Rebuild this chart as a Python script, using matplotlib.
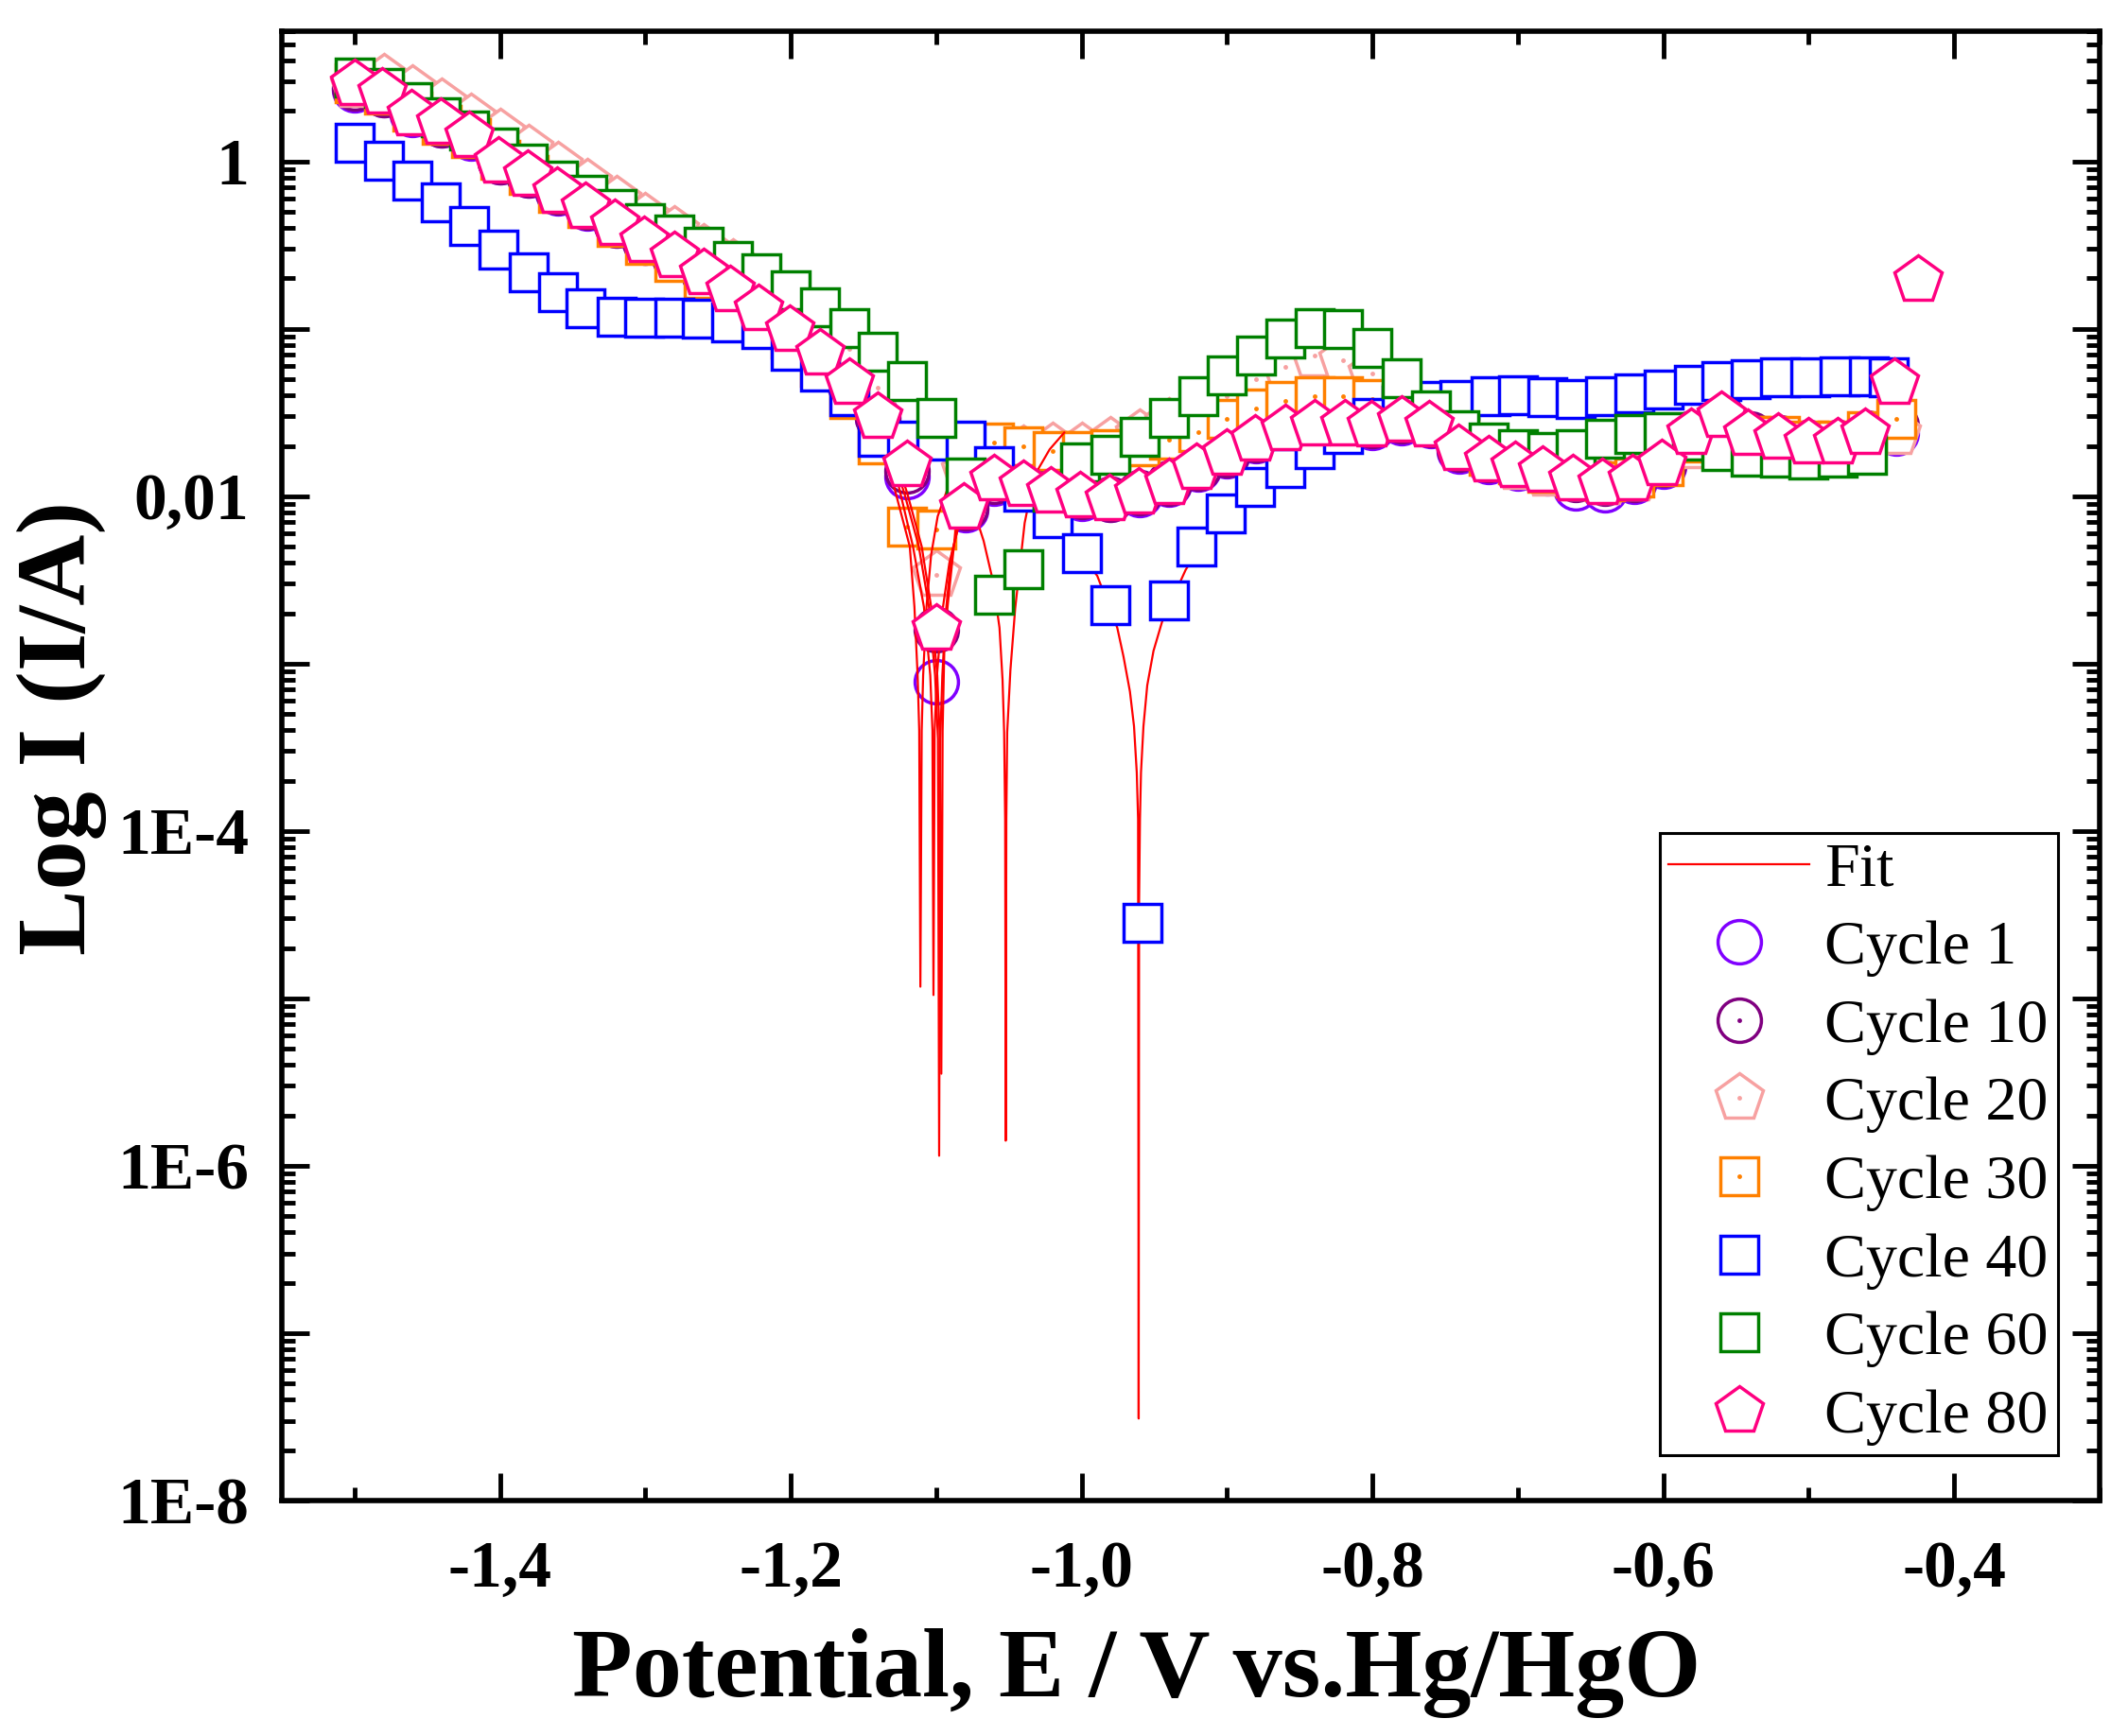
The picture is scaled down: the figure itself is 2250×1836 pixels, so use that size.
import matplotlib
matplotlib.use('Agg')
import matplotlib.pyplot as plt
import numpy as np
from matplotlib.ticker import FixedLocator, FuncFormatter, MultipleLocator, LogLocator, NullFormatter
from matplotlib.legend_handler import HandlerTuple

plt.rcParams['font.family'] = ['Liberation Serif', 'DejaVu Serif']
plt.rcParams['font.weight'] = 'bold'

# ---------------- data (potential in V, log10 of current in A) ----------------
E_grid = [-1.50, -1.48, -1.46, -1.44, -1.42, -1.40, -1.38, -1.36, -1.34, -1.32,
          -1.30, -1.28, -1.26, -1.24, -1.22, -1.20, -1.18, -1.16, -1.14, -1.12,
          -1.10, -1.08, -1.06, -1.04, -1.02, -1.00, -0.98, -0.96, -0.94, -0.92,
          -0.90, -0.88, -0.86, -0.84, -0.82, -0.80, -0.78, -0.76, -0.74, -0.72,
          -0.70, -0.68, -0.66, -0.64, -0.62, -0.60, -0.58, -0.56, -0.54, -0.52,
          -0.50, -0.48, -0.46, -0.44]

logI_c1 = [0.43, 0.40, 0.28, 0.22, 0.14, 0.00, -0.08, -0.19, -0.28, -0.38,
           -0.48, -0.57, -0.67, -0.77, -0.89, -1.01, -1.15, -1.33, -1.53, -1.88,
           -3.11, -2.08, -1.92, -1.95, -1.98, -2.01, -2.02, -1.99, -1.93, -1.84,
           -1.76, -1.67, -1.61, -1.58, -1.58, -1.59, -1.56, -1.58, -1.73, -1.79,
           -1.83, -1.86, -1.95, -1.96, -1.91, -1.82, -1.63, -1.53, -1.64, -1.66,
           -1.69, -1.69, -1.63, -1.62]

logI_c10 = [0.44, 0.40, 0.29, 0.22, 0.15, 0.00, -0.08, -0.18, -0.27, -0.38,
            -0.48, -0.57, -0.67, -0.77, -0.88, -1.01, -1.15, -1.32, -1.53, -1.85,
            -2.80, -2.07, -1.91, -1.94, -1.97, -2.00, -2.02, -1.98, -1.92, -1.83,
            -1.75, -1.66, -1.60, -1.57, -1.57, -1.58, -1.55, -1.57, -1.72, -1.78,
            -1.82, -1.85, -1.90, -1.92, -1.90, -1.81, -1.62, -1.52, -1.63, -1.65,
            -1.68, -1.68, -1.62, -1.58]

logI_c20 = [0.45, 0.497, 0.428, 0.348, 0.26, 0.17, 0.07, -0.03, -0.13, -0.233,
            -0.333, -0.413, -0.52, -0.614, -0.72, -0.84, -0.97, -1.12, -1.35, -1.75,
            -2.47, -1.85, -1.75, -1.724, -1.71, -1.71, -1.675, -1.63, -1.56, -1.48,
            -1.40, -1.30, -1.226, -1.16, -1.19, -1.265, -1.40, -1.55, -1.70, -1.78,
            -1.83, -1.87, -1.90, -1.92, -1.90, -1.80, -1.71, -1.66, -1.68, -1.70,
            -1.71, -1.71, -1.66, -1.62]

logI_c30 = [0.47, 0.40, 0.30, 0.22, 0.14, 0.01, -0.08, -0.19, -0.28, -0.39,
            -0.50, -0.60, -0.70, -0.80, -0.92, -1.06, -1.23, -1.42, -1.69, -2.18,
            -2.20, -1.74, -1.68, -1.70, -1.73, -1.73, -1.72, -1.70, -1.66, -1.615,
            -1.54, -1.474, -1.43, -1.40, -1.40, -1.42, -1.45, -1.52, -1.65, -1.76,
            -1.81, -1.86, -1.89, -1.91, -1.89, -1.82, -1.68, -1.62, -1.64, -1.64,
            -1.67, -1.67, -1.61, -1.54]

E_c40 = [-1.500, -1.480, -1.460, -1.441, -1.421, -1.401, -1.380, -1.360, -1.341, -1.320,
         -1.301, -1.280, -1.261, -1.241, -1.220, -1.200, -1.180, -1.160, -1.140, -1.120,
         -1.100, -1.080, -1.060, -1.040, -1.020, -1.000, -0.980, -0.958, -0.940, -0.921,
         -0.901, -0.881, -0.860, -0.840, -0.820, -0.800, -0.780, -0.760, -0.740, -0.719,
         -0.700, -0.680, -0.660, -0.640, -0.620, -0.600, -0.579, -0.560, -0.540, -0.520,
         -0.499, -0.479, -0.459, -0.445]
logI_c40 = [0.114, 0.006, -0.113, -0.245, -0.386, -0.525, -0.663, -0.78, -0.878, -0.93,
            -0.935, -0.935, -0.94, -0.96, -1.00, -1.13, -1.254, -1.405, -1.644, -1.67,
            -1.67, -1.67, -1.82, -1.97, -2.13, -2.34, -2.65, -4.55, -2.62, -2.30,
            -2.10, -1.944, -1.83, -1.72, -1.63, -1.53, -1.46, -1.43, -1.426, -1.404,
            -1.398, -1.408, -1.417, -1.404, -1.385, -1.36, -1.333, -1.31, -1.30, -1.29,
            -1.29, -1.286, -1.286, -1.29]

E_c60 = [-1.500, -1.480, -1.460, -1.441, -1.421, -1.401, -1.381, -1.360, -1.340, -1.320,
         -1.300, -1.280, -1.260, -1.240, -1.220, -1.200, -1.180, -1.160, -1.140, -1.120,
         -1.100, -1.080, -1.060, -1.040, -1.020, -1.001, -0.980, -0.960, -0.940, -0.920,
         -0.900, -0.880, -0.860, -0.840, -0.820, -0.800, -0.780, -0.760, -0.740, -0.720,
         -0.700, -0.680, -0.660, -0.640, -0.620, -0.600, -0.580, -0.560, -0.540, -0.520,
         -0.500, -0.480, -0.460]
logI_c60 = [0.50, 0.437, 0.356, 0.266, 0.185, 0.085, -0.014, -0.114, -0.20, -0.285,
            -0.368, -0.436, -0.512, -0.592, -0.67, -0.77, -0.87, -0.996, -1.135, -1.31,
            -1.534, -1.89, -2.59, -2.436, -1.97, -1.80, -1.754, -1.646, -1.53, -1.40,
            -1.276, -1.16, -1.06, -0.995, -1.004, -1.117, -1.295, -1.487, -1.605, -1.68,
            -1.72, -1.736, -1.717, -1.657, -1.63, -1.617, -1.67, -1.73, -1.764, -1.77,
            -1.78, -1.77, -1.75]

E_c80 = [-1.500, -1.481, -1.461, -1.441, -1.421, -1.401, -1.381, -1.361, -1.341, -1.321,
         -1.301, -1.280, -1.260, -1.242, -1.222, -1.201, -1.180, -1.160, -1.140, -1.120,
         -1.100, -1.081, -1.060, -1.040, -1.021, -1.001, -0.981, -0.961, -0.940, -0.921,
         -0.900, -0.881, -0.860, -0.840, -0.819, -0.801, -0.780, -0.761, -0.741, -0.720,
         -0.702, -0.683, -0.662, -0.642, -0.621, -0.601, -0.581, -0.560, -0.542, -0.521,
         -0.500, -0.480, -0.461, -0.441, -0.425]
logI_c80 = [0.461, 0.409, 0.283, 0.233, 0.152, 0.001, -0.079, -0.183, -0.271, -0.377,
            -0.478, -0.566, -0.667, -0.768, -0.881, -1.007, -1.146, -1.322, -1.525, -1.814,
            -2.79, -2.07, -1.90, -1.936, -1.97, -2.00, -2.016, -1.98, -1.92, -1.83,
            -1.745, -1.66, -1.60, -1.57, -1.57, -1.58, -1.55, -1.575, -1.72, -1.785,
            -1.82, -1.85, -1.90, -1.92, -1.90, -1.81, -1.62, -1.52, -1.63, -1.65,
            -1.68, -1.68, -1.62, -1.325, -0.71]

# Tafel fit curves
E_fitA = [-1.132, -1.1291, -1.1182, -1.115, -1.1128, -1.1117, -1.1109, -1.1100, -1.1090, -1.1067, -1.1035, -1.099, -1.092]
logI_fitA = [-1.80, -1.94, -2.30, -2.66, -3.07, -3.40, -4.93, -3.40, -3.07, -2.66, -2.35, -2.12, -1.95]
E_fitB = [-1.130, -1.1258, -1.116, -1.1085, -1.1041, -1.1026, -1.1019, -1.1011, -1.0995, -1.096, -1.091, -1.084, -1.076]
logI_fitB = [-1.80, -1.94, -2.30, -2.66, -3.07, -3.40, -4.98, -3.40, -3.07, -2.70, -2.40, -2.15, -1.98]
E_fitC = [-1.127, -1.122, -1.112, -1.105, -1.1008, -1.0988, -1.0980, -1.0972, -1.0958, -1.0935, -1.0895, -1.083, -1.074]
logI_fitC = [-1.85, -1.98, -2.30, -2.66, -3.07, -3.45, -5.94, -3.45, -3.07, -2.70, -2.35, -2.12, -1.95]
E_fitD = [-1.125, -1.120, -1.110, -1.1035, -1.0993, -1.0975, -1.0965, -1.0956, -1.0944, -1.0922, -1.0868, -1.080, -1.072]
logI_fitD = [-1.85, -1.98, -2.30, -2.66, -3.07, -3.45, -5.45, -3.40, -2.90, -2.66, -2.21, -2.02, -1.90]
E_fitG = [-1.093, -1.085, -1.0674, -1.0609, -1.0565, -1.0544, -1.0533, -1.0526, -1.0522, -1.0518, -1.0512, -1.0490, -1.0457, -1.0392, -1.0327, -1.022, -1.012]
logI_fitG = [-1.66, -1.79, -2.267, -2.51, -2.786, -3.097, -3.41, -3.93, -5.85, -3.93, -3.41, -3.04, -2.67, -2.16, -1.88, -1.72, -1.62]
E_fitBl = [-1.005, -0.9893, -0.9755, -0.9712, -0.9668, -0.964, -0.9621, -0.9612, -0.9608, -0.9605, -0.9599, -0.9592, -0.9575, -0.9549, -0.9506, -0.9447, -0.9285, -0.915]
logI_fitBl = [-2.30, -2.475, -2.786, -2.959, -3.167, -3.374, -3.651, -3.928, -7.51, -4.41, -3.928, -3.651, -3.374, -3.13, -2.924, -2.75, -2.44, -2.25]

labels = ['Fit', 'Cycle 1', 'Cycle 10', 'Cycle 20', 'Cycle 30', 'Cycle 40', 'Cycle 60', 'Cycle 80']
colors = {'fit': '#FF0000', 'c1': '#8000FF', 'c10': '#800080', 'c20': '#F7A1A1',
          'c30': '#FF8000', 'c40': '#0000FF', 'c60': '#008000', 'c80': '#FF0080'}
y_ticklabels = {0: '1', -2: '0,01', -4: '1E-4', -6: '1E-6', -8: '1E-8'}

# ---------------- figure ----------------
fig = plt.figure(figsize=(22.5, 18.36), dpi=100)
ax = fig.add_axes([0.13244, 0.13562, 0.85422, 0.84641])
ax.set_yscale('log')

MEW = 2.5
def I(v):
    return 10.0 ** np.asarray(v)

def series(E, logv, color, marker, ms, z, dot=False):
    h = ax.plot(E, I(logv), ls='none', marker=marker, ms=ms, mfc='white', mec=color,
                mew=MEW, zorder=z)[0]
    if dot:
        d = ax.plot(E, I(logv), ls='none', marker='o', ms=3.5, mfc=color, mec=color,
                    mew=0, zorder=z + 0.01)[0]
        return (h, d)
    return h

h1 = series(E_grid, logI_c1, colors['c1'], 'o', 33, 2.0)
h10 = series(E_grid, logI_c10, colors['c10'], 'o', 33, 2.1, dot=True)
h20 = series(E_grid, logI_c20, colors['c20'], 'p', 37.5, 2.2, dot=True)
h30 = series(E_grid, logI_c30, colors['c30'], 's', 28.5, 2.3, dot=True)

fit_handle = None
for Ef, Lf in [(E_fitA, logI_fitA), (E_fitB, logI_fitB), (E_fitC, logI_fitC),
               (E_fitD, logI_fitD), (E_fitG, logI_fitG), (E_fitBl, logI_fitBl)]:
    ln = ax.plot(Ef, I(Lf), color=colors['fit'], lw=1.6, zorder=3)[0]
    if fit_handle is None:
        fit_handle = ln

h40 = series(E_c40, logI_c40, colors['c40'], 's', 28.5, 4)
h60 = series(E_c60, logI_c60, colors['c60'], 's', 28.5, 5)
h80 = series(E_c80, logI_c80, colors['c80'], 'p', 37.5, 6)

# ---------------- axes ----------------
ax.set_xlim(-1.55, -0.30)
ax.set_ylim(1e-8, 6.0)

ax.xaxis.set_major_locator(MultipleLocator(0.2))
ax.xaxis.set_minor_locator(MultipleLocator(0.1))
ax.xaxis.set_major_formatter(FuncFormatter(lambda v, p: f"{v:.1f}".replace('.', ',')))

ax.yaxis.set_major_locator(FixedLocator([10.0 ** k for k in range(-8, 1)]))
ax.yaxis.set_minor_locator(LogLocator(base=10, subs=[2, 3, 4, 5, 6, 7, 8, 9], numticks=30))
ax.yaxis.set_minor_formatter(NullFormatter())
def yfmt(v, p):
    k = int(round(np.log10(v)))
    return y_ticklabels.get(k, '')
ax.yaxis.set_major_formatter(FuncFormatter(yfmt))

ax.tick_params(which='both', direction='in', top=True, right=True, width=3.5)
ax.tick_params(which='major', length=21)
ax.tick_params(which='minor', length=10)
ax.tick_params(axis='x', which='major', labelsize=50, pad=30)
ax.tick_params(axis='y', which='major', labelsize=50, pad=25)
for sp in ax.spines.values():
    sp.set_linewidth(4)

ax.set_xlabel('Potential, E / V vs.Hg/HgO', fontsize=75, fontweight='bold')
ax.xaxis.set_label_coords(0.470, -0.0869)
ax.set_ylabel('Log I (I/A)', fontsize=75, fontweight='bold')
ax.yaxis.set_label_coords(-0.0963, 0.526)

leg = ax.legend([fit_handle, h1, h10, h20, h30, h40, h60, h80], labels,
                loc='lower right', bbox_to_anchor=(0.977, 0.031), borderaxespad=0,
                frameon=True, fancybox=False, edgecolor='black', framealpha=1,
                prop={'family': 'Liberation Serif', 'weight': 'normal', 'size': 47.5},
                handlelength=2.25, handletextpad=0.25, labelspacing=0.34, borderpad=0.15,
                numpoints=1, handler_map={tuple: HandlerTuple(ndivide=1, pad=0)})
leg.get_frame().set_linewidth(2.2)
leg.set_zorder(10)

fig.savefig('out.png', dpi=100, facecolor='white')
